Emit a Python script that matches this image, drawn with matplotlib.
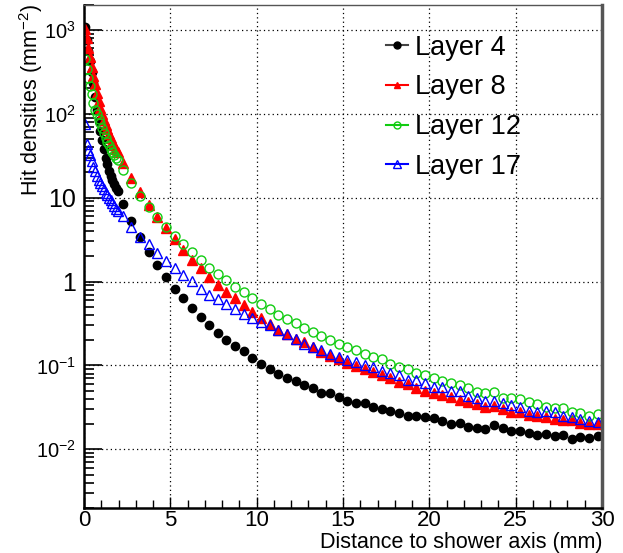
import matplotlib
matplotlib.use('Agg')
import matplotlib.pyplot as plt
from matplotlib.ticker import FixedLocator, MultipleLocator, FuncFormatter
from matplotlib.lines import Line2D

plt.rcParams['font.family'] = ['Liberation Sans', 'DejaVu Sans']
plt.rcParams['mathtext.fontset'] = 'custom'
plt.rcParams['mathtext.rm'] = 'Liberation Sans'
plt.rcParams['mathtext.it'] = 'Liberation Sans'

# bin centres (mm): fine bins 0-2, then 0.5 mm bins
x_fine = [0.05, 0.15, 0.25, 0.35, 0.45, 0.55, 0.65, 0.75, 0.85, 0.95,
          1.05, 1.15, 1.25, 1.35, 1.45, 1.55, 1.65, 1.75, 1.85, 1.95]
x_coarse = [2.25, 2.75, 3.25, 3.75, 4.25, 4.75, 5.25, 5.75, 6.25, 6.75,
            7.25, 7.75, 8.25, 8.75, 9.25, 9.75, 10.25, 10.75, 11.25, 11.75,
            12.25, 12.75, 13.25, 13.75, 14.25, 14.75, 15.25, 15.75, 16.25, 16.75,
            17.25, 17.75, 18.25, 18.75, 19.25, 19.75, 20.25, 20.75, 21.25, 21.75,
            22.25, 22.75, 23.25, 23.75, 24.25, 24.75, 25.25, 25.75, 26.25, 26.75,
            27.25, 27.75, 28.25, 28.75, 29.25, 29.75]
dist = x_fine + x_coarse

# hit densities (mm^-2)
layer4 = [1080, 750, 560, 420, 310, 230, 160, 110, 82, 62,
          48, 38, 30, 25, 21, 18, 16, 14.5, 13, 12,
          8.5, 5.3, 3.4, 2.26, 1.57, 1.12, 0.82, 0.63, 0.48, 0.38,
          0.30, 0.243, 0.199, 0.171, 0.149, 0.124, 0.104, 0.091, 0.080, 0.0716,
          0.066, 0.0586, 0.0533, 0.0467, 0.0474, 0.0425, 0.038, 0.0354, 0.036, 0.0323,
          0.0305, 0.0288, 0.0274, 0.025, 0.025, 0.024, 0.0236, 0.0217, 0.0202, 0.0205,
          0.0187, 0.0182, 0.0174, 0.0193, 0.0181, 0.0166, 0.0166, 0.0157, 0.0149, 0.0154,
          0.0145, 0.0149, 0.0131, 0.014, 0.0135, 0.0146]
layer8 = [1020, 800, 600, 470, 365, 280, 225, 178, 141, 117,
          100, 85, 74, 65, 57, 51, 46, 42, 38, 35,
          26, 17.1, 11.7, 8.1, 5.9, 4.3, 3.18, 2.37, 1.81, 1.44,
          1.135, 0.92, 0.75, 0.63, 0.52, 0.43, 0.367, 0.315, 0.267, 0.236,
          0.209, 0.19, 0.164, 0.144, 0.131, 0.12, 0.108, 0.099, 0.091, 0.083,
          0.076, 0.0703, 0.063, 0.060, 0.0543, 0.050, 0.0474, 0.045, 0.042, 0.039,
          0.0362, 0.035, 0.032, 0.033, 0.0302, 0.028, 0.0279, 0.0257, 0.0251, 0.024,
          0.0227, 0.0221, 0.0221, 0.0207, 0.0203, 0.0199]
layer12 = [450, 340, 270, 215, 170, 135, 112, 98, 87, 78,
           68, 59, 51, 46, 42, 38, 35, 32, 30, 28,
           21.4, 14.9, 10.5, 7.7, 5.9, 4.5, 3.48, 2.77, 2.22, 1.80,
           1.46, 1.22, 1.03, 0.855, 0.74, 0.63, 0.54, 0.465, 0.40, 0.357,
           0.32, 0.279, 0.248, 0.222, 0.202, 0.181, 0.165, 0.151, 0.138, 0.126,
           0.12, 0.105, 0.095, 0.09, 0.082, 0.076, 0.070, 0.0655, 0.061, 0.058,
           0.0543, 0.0478, 0.0465, 0.0478, 0.0414, 0.0407, 0.0397, 0.0363, 0.0344, 0.0317,
           0.0314, 0.0308, 0.028, 0.0274, 0.0251, 0.0263]
layer17 = [75, 44, 37, 32, 27, 23, 20.5, 18.2, 16.4, 15,
           13.6, 12.5, 11.5, 10.7, 10, 9.3, 8.6, 8.0, 7.4, 6.9,
           6.0, 4.45, 3.4, 2.77, 2.2, 1.78, 1.45, 1.21, 1.01, 0.82,
           0.70, 0.62, 0.54, 0.47, 0.414, 0.367, 0.326, 0.30, 0.267, 0.239,
           0.209, 0.181, 0.168, 0.154, 0.136, 0.126, 0.117, 0.111, 0.1016, 0.097,
           0.087, 0.081, 0.076, 0.067, 0.067, 0.061, 0.056, 0.055, 0.0497, 0.0497,
           0.0433, 0.0413, 0.0377, 0.0377, 0.0353, 0.0338, 0.0317, 0.0288, 0.0276, 0.0288,
           0.0276, 0.0251, 0.024, 0.0227, 0.0219, 0.0213]

labels = ['Layer 4', 'Layer 8', 'Layer 12', 'Layer 17']
green = '#11cc11'

fig = plt.figure(figsize=(6.23, 5.53), dpi=100)
ax = fig.add_axes([0.1348, 0.0814, 0.8315, 0.9104])

ax.plot(dist, layer4, 'o', ms=6, color='black', mec='black', ls='none')
ax.plot(dist, layer8, '^', ms=6.5, color='red', mec='red', ls='none')
ax.plot(dist, layer12, 'o', ms=6.5, mfc='none', mec=green, mew=1.0, ls='none')
ax.plot(dist, layer17, '^', ms=7, mfc='none', mec='blue', mew=1.0, ls='none')

ax.set_yscale('log')
ax.set_xlim(0, 30)
ax.set_ylim(2e-3, 2e3)

ax.xaxis.set_major_locator(MultipleLocator(5))
ax.xaxis.set_minor_locator(MultipleLocator(1))
ax.yaxis.set_major_locator(FixedLocator([1e-2, 1e-1, 1, 10, 1e2, 1e3]))

def ylab(v, pos):
    names = {1e-2: '$10^{-2}$', 1e-1: '$10^{-1}$', 1: '1', 10: '10',
             1e2: '$10^{2}$', 1e3: '$10^{3}$'}
    for k in names:
        if abs(v - k) / k < 1e-6:
            return names[k]
    return ''

ax.yaxis.set_major_formatter(FuncFormatter(ylab))
ax.tick_params(axis='both', which='both', direction='in',
               top=False, right=False)
ax.tick_params(axis='x', labelsize=16, pad=1.5)
ax.tick_params(axis='y', labelsize=18, pad=6)
ax.tick_params(axis='y', which='major', length=13, width=1.2)
ax.tick_params(axis='y', which='minor', length=7, width=1.2)
ax.tick_params(axis='x', which='major', length=8, width=1.0)
ax.tick_params(axis='x', which='minor', length=6, width=1.0)

ax.grid(True, which='major', color='black', ls=(0, (1, 2.5)), lw=0.9)

for side in ['left', 'bottom']:
    ax.spines[side].set_linewidth(1.8)
ax.spines['top'].set_linewidth(1.0)
ax.spines['top'].set_color('#555555')
ax.spines['right'].set_linewidth(2.5)
ax.spines['right'].set_color('#555555')

ax.set_xlabel('Distance to shower axis (mm)', fontsize=15.5, ha='right')
ax.xaxis.set_label_coords(1.0, -0.047)
ax.set_ylabel('Hit densities (mm$^{-2}$)', fontsize=15.5, ha='right')
ax.yaxis.set_label_coords(-0.076, 1.0)

handles = [
    Line2D([], [], color='#444444', lw=1.5, marker='o', ms=5, mfc='black', mec='black'),
    Line2D([], [], color='red', lw=1.5, marker='^', ms=5, mfc='red', mec='red'),
    Line2D([], [], color=green, lw=1.5, marker='o', ms=5, mfc='none', mec=green),
    Line2D([], [], color='blue', lw=1.5, marker='^', ms=6, mfc='none', mec='blue'),
]
ax.legend(handles, labels, loc='upper left', bbox_to_anchor=(0.536, 0.988),
          frameon=False, fontsize=19.5, handlelength=0.8, handletextpad=0.26,
          labelspacing=0.5)

# power-of-ten labels are drawn smaller than the plain ones
fig.canvas.draw()
for t in ax.get_yticklabels():
    if '^' in t.get_text():
        t.set_fontsize(14.5)

fig.savefig('out.png', dpi=100)
